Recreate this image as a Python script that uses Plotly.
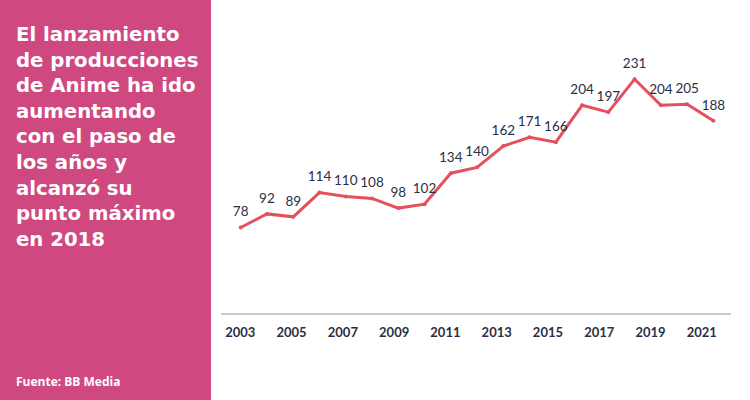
import plotly.graph_objects as go

years = list(range(2003, 2022))
values = [78, 92, 89, 114, 110, 108, 98, 102, 134, 140, 162, 171, 166, 204, 197, 231, 204, 205, 188]
tick_years = [2003, 2005, 2007, 2009, 2011, 2013, 2015, 2017, 2019, 2021]
title_lines = ["El lanzamiento", "de producciones", "de Anime ha ido", "aumentando",
               "con el paso de", "los años y", "alcanzó su", "punto máximo", "en 2018"]
source = "Fuente: BB Media"

W, H = 750, 400
L, R, T, B = 221, 19, 20, 87
pw, ph = W - L - R, H - T - B

def px_x(p):
    return (p - L) / pw

def px_y(p):
    return (H - B - p) / ph

line_color = "#E6505C"
label_color = "#2B2F45"
pink = "#CF4980"

fig = go.Figure()
fig.add_trace(go.Scatter(
    x=years, y=values, mode="lines+markers",
    line=dict(color=line_color, width=3),
    marker=dict(color=line_color, size=4),
    cliponaxis=False, hoverinfo="skip", showlegend=False,
))
fig.add_trace(go.Scatter(
    x=years, y=values, mode="markers+text",
    marker=dict(size=11, opacity=0),
    text=[str(v) for v in values], textposition="top center",
    textfont=dict(family="Lato", size=13.5, color=label_color),
    cliponaxis=False, hoverinfo="skip", showlegend=False,
))
# invisible trace carrying the tick axis
fig.add_trace(go.Scatter(x=tick_years, y=[0]*len(tick_years), xaxis="x2", mode="markers",
                         marker=dict(opacity=0), showlegend=False, hoverinfo="skip"))

shapes = [dict(type="rect", xref="paper", yref="paper",
               x0=px_x(-5), x1=px_x(211), y0=px_y(405), y1=px_y(-5),
               fillcolor=pink, line=dict(width=0), layer="below")]

annotations = [
    dict(text="<b>" + "<br>".join(title_lines) + "</b>", xref="paper", yref="paper",
         x=px_x(14), y=px_y(21), xanchor="left", yanchor="top", align="left",
         showarrow=False, font=dict(family="DejaVu Sans", size=19.7, color="white")),
    dict(text="<b>" + source + "</b>", xref="paper", yref="paper",
         x=px_x(14), y=px_y(381.5), xanchor="left", yanchor="middle",
         showarrow=False, font=dict(family="Open Sans", size=12, color="white")),
]

fig.update_layout(
    width=W, height=H, margin=dict(l=L, r=R, t=T, b=B),
    paper_bgcolor="white", plot_bgcolor="white",
    shapes=shapes, annotations=annotations,
    xaxis=dict(range=[2002.25, 2021.67], showgrid=False, zeroline=False,
               showticklabels=False, ticks="", showline=True,
               linecolor="#C5CAD3", linewidth=2),
    xaxis2=dict(range=[2002.247, 2022.14], overlaying="x", side="bottom",
                anchor="y", showgrid=False, zeroline=False, showline=False,
                tickmode="array", tickvals=tick_years, ticktext=[str(t) for t in tick_years],
                ticks="", tickfont=dict(family="Lato", size=13, color=label_color, weight="bold"),
                ticklabelstandoff=10),
    yaxis=dict(range=[-10.2, 292], visible=False),
)

fig.write_html("out.html", config={"displayModeBar": False},
               post_script="document.body.style.margin='0';")
